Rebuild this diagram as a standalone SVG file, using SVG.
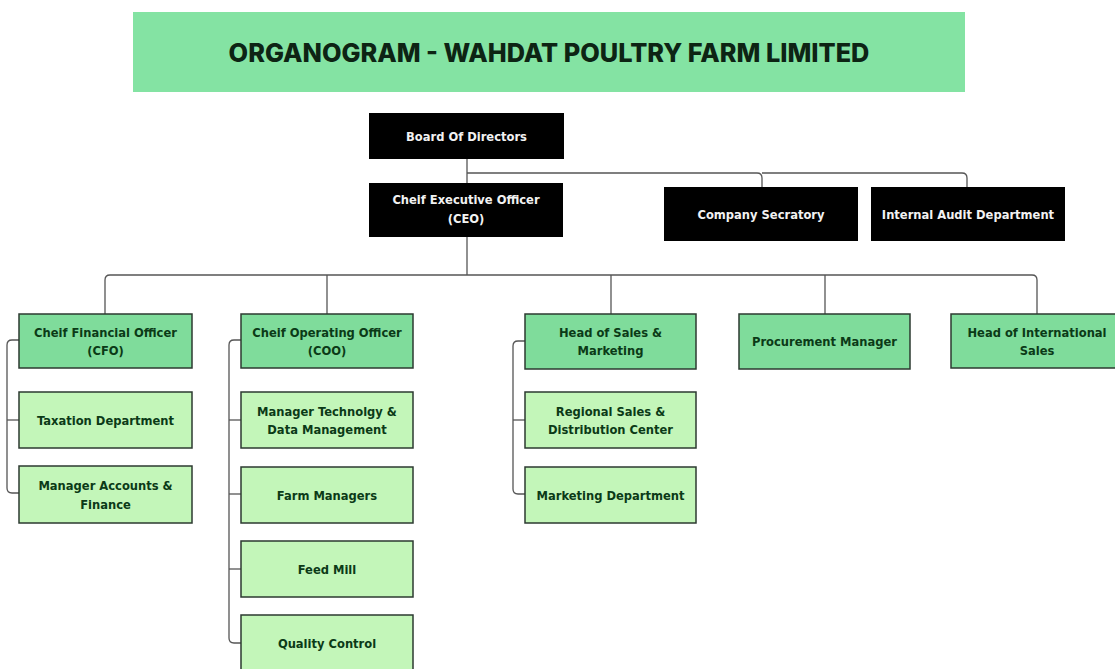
<svg xmlns="http://www.w3.org/2000/svg" width="1115" height="669" viewBox="0 0 1115 669">
<style>
.bg{fill:#ffffff}
.banner{fill:#84e3a3}
.title{font-family:Inter,"DejaVu Sans","Liberation Sans",sans-serif;font-weight:800;font-size:25.3px;fill:#0d2414;text-anchor:middle}
.blk{fill:#000000}
.mid{fill:#7fdc9b;stroke:#2c3a30;stroke-width:1.5}
.sub{fill:#c3f6b9;stroke:#2c3a30;stroke-width:1.5}
.t{font-family:"DejaVu Sans Condensed","Liberation Sans",sans-serif;font-weight:bold;font-size:12.8px;text-anchor:middle}
.tw{fill:#f2f2f2}
.tg{fill:#0b3a17}
.con{fill:none;stroke:#555555;stroke-width:1.3}
</style>
<rect class="bg" x="0" y="0" width="1115" height="669"/>
<g id="title">
<rect class="banner" x="133" y="12" width="832" height="80"/>
<text class="title" x="549" y="62">ORGANOGRAM - WAHDAT POULTRY FARM LIMITED</text>
</g>
<g id="connectors">
<path class="con" d="M467,159 V183"/>
<path class="con" d="M467,173 H757 Q762,173 762,178 V187"/>
<path class="con" d="M762,173 H962 Q967,173 967,178 V187"/>
<path class="con" d="M467,237 V275"/>
<path class="con" d="M105,314 V280 Q105,275 110,275 H1032 Q1037,275 1037,280 V314"/>
<path class="con" d="M327,275 V314"/>
<path class="con" d="M611,275 V314"/>
<path class="con" d="M825,275 V314"/>
<path class="con" d="M19,340 H12 Q7,340 7,345 V488 Q7,493 12,493 H19"/>
<path class="con" d="M7,420 H19"/>
<path class="con" d="M241,340 H234 Q229,340 229,345 V638 Q229,643 234,643 H241"/>
<path class="con" d="M229,420 H241"/>
<path class="con" d="M229,494 H241"/>
<path class="con" d="M229,569 H241"/>
<path class="con" d="M525,341 H518 Q513,341 513,346 V489 Q513,494 518,494 H525"/>
<path class="con" d="M513,420 H525"/>
</g>
<g id="board">
<rect class="blk" x="369" y="113" width="195" height="46"/>
<text class="t tw" x="466.5" y="140.5">Board Of Directors</text>
</g>
<g id="ceo">
<rect class="blk" x="369" y="183" width="194" height="54"/>
<text class="t tw" x="466" y="203.5">Cheif Executive Officer</text>
<text class="t tw" x="466" y="222.5">(CEO)</text>
</g>
<g id="company-secretary">
<rect class="blk" x="664" y="187" width="194" height="54"/>
<text class="t tw" x="761" y="218.5">Company Secratory</text>
</g>
<g id="internal-audit">
<rect class="blk" x="871" y="187" width="194" height="54"/>
<text class="t tw" x="968" y="218.5">Internal Audit Department</text>
</g>
<g id="cfo">
<rect class="mid" x="19" y="314" width="173" height="54"/>
<text class="t tg" x="105.5" y="336.5">Cheif Financial Officer</text>
<text class="t tg" x="105.5" y="354.5">(CFO)</text>
</g>
<g id="coo">
<rect class="mid" x="241" y="314" width="172" height="54"/>
<text class="t tg" x="327" y="336.5">Cheif Operating Officer</text>
<text class="t tg" x="327" y="354.5">(COO)</text>
</g>
<g id="head-sales">
<rect class="mid" x="525" y="314" width="171" height="55"/>
<text class="t tg" x="610.5" y="336.5">Head of Sales &amp;</text>
<text class="t tg" x="610.5" y="354.5">Marketing</text>
</g>
<g id="procurement">
<rect class="mid" x="739" y="314" width="171" height="55"/>
<text class="t tg" x="824.5" y="345.5">Procurement Manager</text>
</g>
<g id="head-international">
<rect class="mid" x="951" y="314" width="172" height="54"/>
<text class="t tg" x="1037" y="336.5">Head of International</text>
<text class="t tg" x="1037" y="354.5">Sales</text>
</g>
<g id="taxation">
<rect class="sub" x="19" y="392" width="173" height="56"/>
<text class="t tg" x="105.5" y="424.5">Taxation Department</text>
</g>
<g id="accounts">
<rect class="sub" x="19" y="466" width="173" height="57"/>
<text class="t tg" x="105.5" y="489.5">Manager Accounts &amp;</text>
<text class="t tg" x="105.5" y="508.5">Finance</text>
</g>
<g id="tech">
<rect class="sub" x="241" y="392" width="172" height="56"/>
<text class="t tg" x="327" y="415.5">Manager Technolgy &amp;</text>
<text class="t tg" x="327" y="433.5">Data Management</text>
</g>
<g id="farm">
<rect class="sub" x="241" y="467" width="172" height="56"/>
<text class="t tg" x="327" y="499.5">Farm Managers</text>
</g>
<g id="feed">
<rect class="sub" x="241" y="541" width="172" height="56"/>
<text class="t tg" x="327" y="573.5">Feed Mill</text>
</g>
<g id="quality">
<rect class="sub" x="241" y="615" width="172" height="56"/>
<text class="t tg" x="327" y="647.5">Quality Control</text>
</g>
<g id="regional">
<rect class="sub" x="525" y="392" width="171" height="56"/>
<text class="t tg" x="610.5" y="415.5">Regional Sales &amp;</text>
<text class="t tg" x="610.5" y="433.5">Distribution Center</text>
</g>
<g id="marketing">
<rect class="sub" x="525" y="467" width="171" height="56"/>
<text class="t tg" x="610.5" y="499.5">Marketing Department</text>
</g>
</svg>
